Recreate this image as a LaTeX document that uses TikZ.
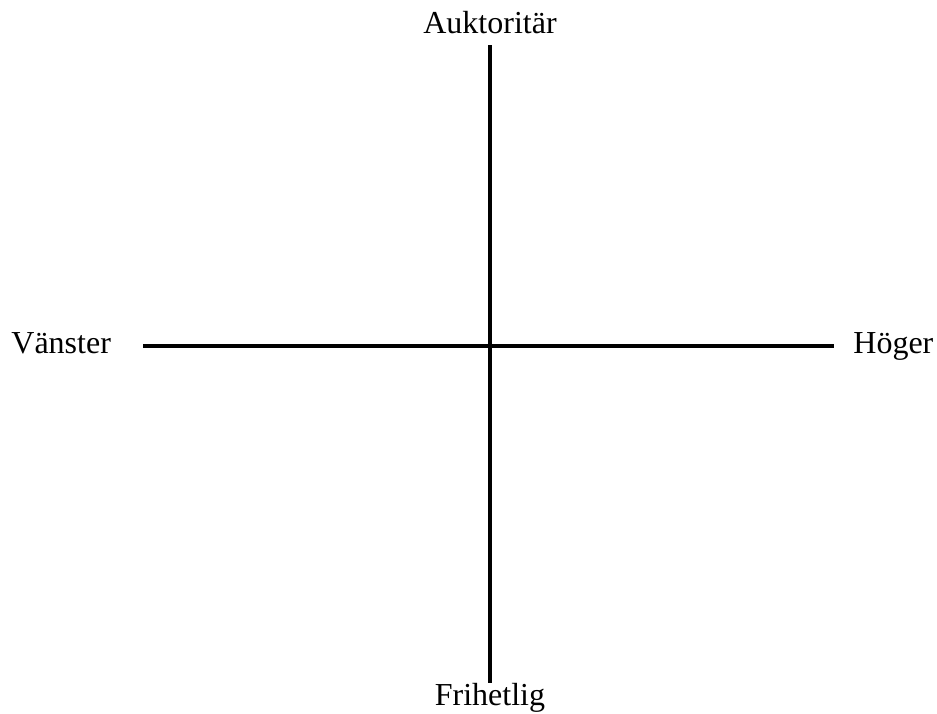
\documentclass[tikz,border=0pt]{standalone}
\usepackage{fontspec}
\setmainfont{Liberation Serif}
\usetikzlibrary{positioning}
\begin{document}
\begin{tikzpicture}[x=0.5pt, y=-0.5pt,
  axis/.style={line width=1.7pt},
  lab/.style={font=\fontsize{16}{19}\selectfont, inner sep=0pt}]
\useasboundingbox (0,0) rectangle (937,713);
% axis ends
\coordinate (top) at (490,45);
\coordinate (bot) at (490,683);
\coordinate (left) at (143,346);
\coordinate (right) at (834,346);
% labels
\node[lab, anchor=base] (auk) at (490,33) {Auktoritär};
\node[lab, anchor=base] (fri) at (490,705) {Frihetlig};
\node[lab, anchor=base west] (van) at (11,353) {Vänster};
\node[lab, anchor=base west] (hog) at (853,353) {Höger};
\draw[axis] (top) -- (bot);
\draw[axis] (left) -- (right);
\end{tikzpicture}
\end{document}
